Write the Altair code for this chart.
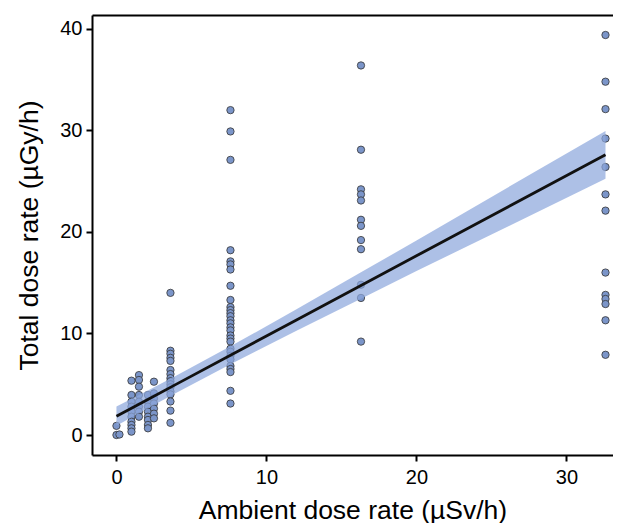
import altair as alt
import pandas as pd

# Observations: ambient dose rate level -> measured total dose rates
amb_00 = [0.9, 0.0]
amb_02 = [0.05]
amb_10 = [5.35, 3.94, 3.28, 2.79, 2.3, 1.8, 1.31, 0.99, 0.66, 0.33]
amb_15 = [5.9, 5.42, 4.76, 3.94, 3.28, 2.79, 2.3, 1.8]
amb_21 = [3.94, 3.28, 2.79, 2.3, 1.8, 1.48, 0.99, 0.66]
amb_25 = [5.25, 4.1, 3.6, 3.1, 2.6, 2.1, 1.64]
amb_36 = [14.0, 8.3, 8.0, 7.6, 7.3, 6.4, 6.0, 5.6, 5.3, 5.0, 4.7, 4.3, 4.0, 3.3, 2.4, 1.2]
amb_76 = [32.0, 29.9, 27.1, 18.2, 17.1, 16.8, 16.3, 14.7, 13.3, 12.6, 12.3, 12.0, 11.7,
          11.3, 11.0, 10.6, 10.3, 9.8, 9.5, 9.2, 8.5, 8.2, 7.8, 7.45, 6.8, 6.5, 6.2, 4.35, 3.1]
amb_163 = [36.4, 28.1, 24.2, 23.7, 23.1, 21.2, 20.6, 19.2, 18.3, 14.8, 13.5, 9.2]
amb_326 = [39.4, 34.8, 32.1, 29.2, 26.4, 23.7, 22.1, 16.0, 13.8, 13.4, 12.9, 11.3, 7.9]

levels = [0.0, 0.2, 1.0, 1.5, 2.1, 2.5, 3.6, 7.6, 16.3, 32.6]
columns = [amb_00, amb_02, amb_10, amb_15, amb_21, amb_25, amb_36, amb_76, amb_163, amb_326]

# Fitted line and confidence band
fit_x = [0.0, 2.0, 4.0, 7.6, 12.0, 16.3, 20.0, 25.0, 32.6]
fit_mid = [1.85, 3.43, 5.01, 7.85, 11.33, 14.73, 17.65, 21.6, 27.6]
fit_lo = [0.9, 2.55, 4.16, 6.97, 10.28, 13.43, 16.15, 19.75, 25.25]
fit_hi = [2.8, 4.31, 5.86, 8.73, 12.38, 16.03, 19.15, 23.45, 29.95]

rows = []
for lv, col in zip(levels, columns):
    for v in col:
        rows.append({"amb": lv, "tot": v})
pts = pd.DataFrame(rows)
fit = pd.DataFrame({"amb": fit_x, "mid": fit_mid, "lo": fit_lo, "hi": fit_hi})

FONT = "Liberation Sans"
xs = alt.Scale(domain=[-1.63, 33.1], nice=False, zero=False)
ys = alt.Scale(domain=[-1.97, 41.37], nice=False, zero=False)

xaxis = alt.Axis(values=[0, 10, 20, 30], title="Ambient dose rate (µSv/h)", grid=False,
                 orient="bottom",
                 domainColor="black", domainWidth=2, tickColor="black", tickWidth=2,
                 tickSize=6, labelFontSize=20, labelColor="black", labelFont=FONT,
                 labelPadding=6, titleFont=FONT, titleFontSize=26.5, titleFontWeight="normal",
                 titleColor="black", titleY=63, titleBaseline="alphabetic")
yaxis = alt.Axis(values=[0, 10, 20, 30, 40], title="Total dose rate (µGy/h)", grid=False,
                 domainColor="black", domainWidth=2, tickColor="black", tickWidth=2,
                 tickSize=6, labelFontSize=20, labelColor="black", labelFont=FONT,
                 labelPadding=4, titleFont=FONT, titleFontSize=26.5, titleFontWeight="normal",
                 titleColor="black", titleX=-63, titleBaseline="middle")
topaxis = alt.Axis(orient="top", title=None, labels=False, ticks=False, grid=False,
                   domainColor="black", domainWidth=2)

points = alt.Chart(pts).mark_point(filled=True, shape="circle", size=54, fill="#7b95c9",
                                   stroke="#333333", strokeWidth=0.8, opacity=1).encode(
    x=alt.X("amb:Q", scale=xs, axis=xaxis),
    y=alt.Y("tot:Q", scale=ys, axis=yaxis),
)

band = alt.Chart(fit).mark_area(color="#8ea8dd", opacity=0.72).encode(
    x=alt.X("amb:Q", scale=xs, axis=topaxis),
    y=alt.Y("lo:Q", scale=ys),
    y2="hi:Q",
)

line = alt.Chart(fit).mark_line(color="#111111", strokeWidth=2.8).encode(
    x=alt.X("amb:Q", scale=xs, axis=None),
    y=alt.Y("mid:Q", scale=ys),
)

chart = alt.layer(points, band, line).resolve_scale(x="independent").properties(
    width=521, height=440,
    autosize=alt.AutoSizeParams(type="none"),
    padding={"left": 84, "top": 7, "right": 0, "bottom": 68},
).configure_view(stroke=None)

chart.save("out.html", embed_options={"renderer": "svg", "actions": False})
